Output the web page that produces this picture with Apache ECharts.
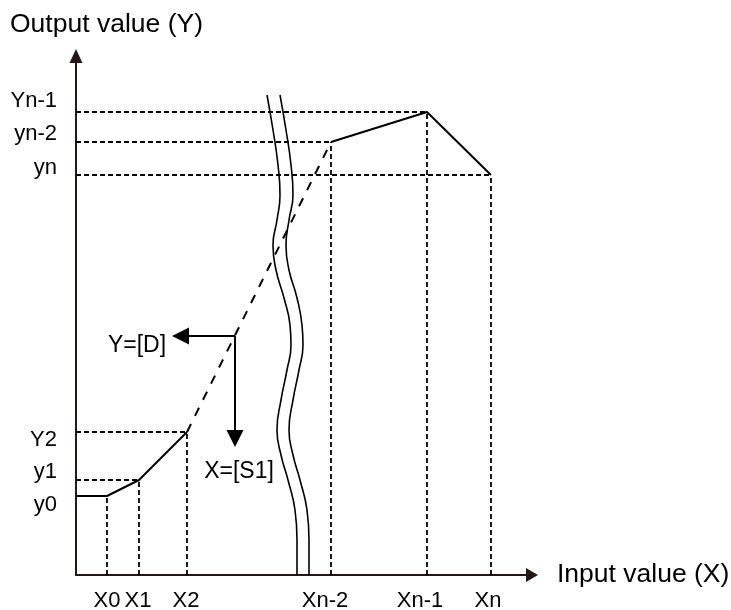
<!DOCTYPE html>
<html><head><meta charset="utf-8">
<script src="https://cdn.jsdelivr.net/npm/echarts@6/dist/echarts.min.js"></script>
<style>html,body{margin:0;padding:0;background:#fff}#c{width:731px;height:610px}</style>
</head><body><div id="c"></div>
<script>
// ---- data (axis units) ----
const xTickPos = [31, 62, 110, 249, 344, 412];
const xTickText = ['X0', 'X1', 'X2', 'Xn-2', 'Xn-1', 'Xn'];
const yTickPos = [70, 103, 135, 407, 441, 474];
const yTickText = ['y0', 'y1', 'Y2', 'yn', 'yn-2', 'Yn-1'];
const breakX = [31, 63, 111, 255, 351, 415];
const breakY = [79, 95, 143, 433, 463, 400];
const curveLow = [[0, 79], [31, 79], [63, 95], [111, 143]];
const curveLink = [[111, 143], [255, 433]];
const curveHigh = [[255, 433], [351, 463], [415, 400]];
const waveLeft = [[191,480],[197,445],[202,410],[204,380],[201,355],[197,330],[200,305],[208,277],[214,250],[215,230],[211,205],[205,175],[201,145],[205,120],[212,95],[219,65],[221,35],[221,0]];
const waveRight = [[204,480],[210,445],[215,410],[217,380],[213,355],[210,330],[213,305],[221,277],[226,250],[227,230],[223,205],[217,175],[213,145],[217,120],[224,95],[231,65],[233,35],[233,0]];
const arrowStart = [159, 239];
const arrowTipD = [96, 239];
const arrowTipS = [159, 128];
const noteText = ['Y=[D]', 'X=[S1]'];
const notePos = [[61, 229], [163, 103]];
const xMax = 456, yMax = 519;

const INK = '#000000';
const AXIS = '#231815';
const FONT = "'Liberation Sans', Arial, sans-serif";
const HEAD = 17;

function seg(points, lineStyle, z) {
  return { type: 'line', data: points, symbol: 'none', silent: true, animation: false,
           lineStyle: Object.assign({ color: INK, width: 2 }, lineStyle), z: z || 2 };
}
// markLine arrowheads are centred on the end point: pull the end back by half a head
function headEnd(start, tip) {
  const dx = start[0] - tip[0], dy = start[1] - tip[1];
  const len = Math.hypot(dx, dy);
  return [tip[0] + dx / len * HEAD / 2, tip[1] + dy / len * HEAD / 2];
}

const series = [];
breakX.forEach((x, i) => {
  series.push(seg([[x, 0], [x, breakY[i]]], { type: [5, 3], width: 1.8 }, 1));
  if (i > 0) series.push(seg([[0, breakY[i]], [x, breakY[i]]], { type: [5, 3], width: 1.8 }, 1));
});
series.push(seg(curveLow, { width: 2 }, 3));
series.push(seg(curveLink, { type: [9, 9], width: 2 }, 3));
series.push(seg(curveHigh, { width: 2 }, 3));
series.push(Object.assign(seg(waveLeft, { width: 1.6 }, 4), { smooth: 0.5 }));
series.push(Object.assign(seg(waveRight, { width: 1.6 }, 4), { smooth: 0.5 }));
series.push({
  type: 'line', data: [], silent: true, animation: false,
  markLine: {
    silent: true, animation: false,
    symbol: ['none', 'triangle'], symbolSize: [HEAD, HEAD],
    label: { show: false },
    lineStyle: { color: INK, width: 2, type: 'solid' },
    emphasis: { disabled: true },
    data: [
      [{ coord: arrowStart }, { coord: headEnd(arrowStart, arrowTipD) }],
      [{ coord: arrowStart }, { coord: headEnd(arrowStart, arrowTipS) }]
    ]
  }
});
series.push({
  type: 'scatter', data: notePos, symbolSize: 1, itemStyle: { color: 'rgba(0,0,0,0)', opacity: 1 },
  silent: true, animation: false, z: 5,
  label: { show: true, position: 'inside', fontSize: 23, color: INK, fontFamily: FONT,
           formatter: p => noteText[p.dataIndex] }
});

const chart = echarts.init(document.getElementById('c'), null, { renderer: 'canvas' });
chart.setOption({
  animation: false,
  backgroundColor: '#fff',
  textStyle: { fontFamily: FONT },
  title: { text: 'Output value (Y)', left: 10, top: 11, padding: 0,
           textStyle: { fontSize: 26.5, fontWeight: 'normal', color: INK, fontFamily: FONT } },
  grid: { left: 76, right: 731 - 76 - xMax, top: 575 - yMax, bottom: 35, containLabel: false, outerBoundsMode: 'none' },
  xAxis: {
    type: 'value', min: 0, max: xMax,
    axisLine: { show: true, symbol: ['none', 'triangle'], symbolSize: [14, 12],
                lineStyle: { color: AXIS, width: 2 } },
    axisTick: { show: false }, splitLine: { show: false },
    axisLabel: { customValues: xTickPos, formatter: v => xTickText[xTickPos.indexOf(v)],
                 fontSize: 22, color: INK, margin: 15, hideOverlap: false, fontFamily: FONT },
    name: 'Input value (X)', nameLocation: 'end', nameGap: 25,
    nameTextStyle: { fontSize: 26.5, color: INK, fontFamily: FONT, padding: [0, 0, 16, 0] }
  },
  yAxis: {
    type: 'value', min: 0, max: yMax,
    axisLine: { show: true, symbol: ['none', 'triangle'], symbolSize: [13, 14],
                lineStyle: { color: AXIS, width: 2 } },
    axisTick: { show: false }, splitLine: { show: false },
    axisLabel: { customValues: yTickPos, formatter: v => yTickText[yTickPos.indexOf(v)],
                 fontSize: 22, color: INK, margin: 19, hideOverlap: false, fontFamily: FONT }
  },
  series: series
});
</script></body></html>
